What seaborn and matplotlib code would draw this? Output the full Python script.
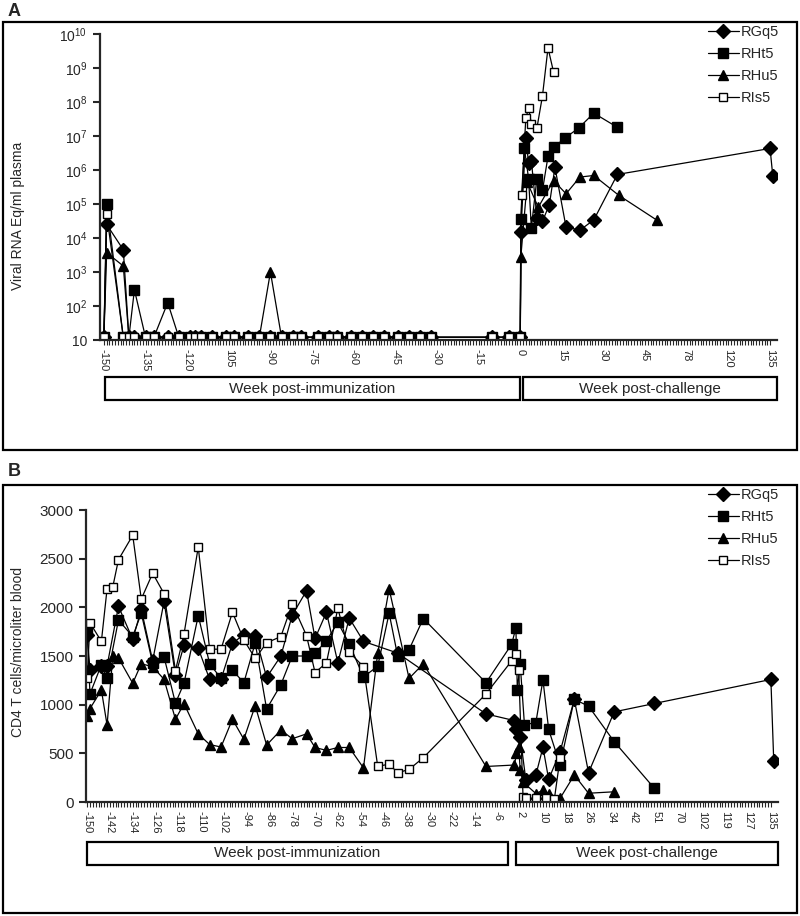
import numpy as np
import matplotlib
matplotlib.use("Agg")
import matplotlib.pyplot as plt
from matplotlib.patches import Rectangle
from matplotlib.ticker import FixedLocator, FixedFormatter, NullFormatter
import seaborn as sns

sns.set_style("ticks")
plt.rcParams["font.family"] = ["Liberation Sans", "DejaVu Sans"]
plt.rcParams["mathtext.fontset"] = "custom"
plt.rcParams["mathtext.rm"] = "Liberation Sans"

ANIMALS = ["RGq5", "RHt5", "RHu5", "RIs5"]
U = 12  # undetectable, drawn on the baseline

# ---- panel A: viral RNA (copies/ml), weeks ----
a_pre_weeks = [-150, -149, -143, -141, -139, -135, -132, -127, -123, -119, -117, -115,
               -111, -106, -103, -98, -94, -90, -86, -82, -79, -73, -69, -66, -61,
               -57, -53, -49, -44, -40, -36, -32, -10, -4, 0]
a_pre_rgq5 = [U, 2.5e4, 4.5e3, U, U, U, U, U, U, U, U, U, U, U, U, U, U, U, U, U, U, U,
              U, U, U, U, U, U, U, U, U, U, U, U, U]
a_pre_rht5 = [U, 1e5, U, U, 300, U, U, 125, U, U, U, U, U, U, U, U, U, U, U, U, U, U,
              U, U, U, U, U, U, U, U, U, U, U, U, U]
a_pre_rhu5 = [U, 3.7e3, 1.5e3, U, U, U, U, U, U, U, U, U, U, U, U, U, U, 1e3, U, U, U, U,
              U, U, U, U, U, U, U, U, U, U, U, U, U]
a_pre_ris5 = [U, 5e4, U, U, U, U, U, U, U, U, U, U, U, U, U, U, U, U, U, U, U, U,
              U, U, U, U, U, U, U, U, U, U, U, U, U]

a_post_weeks_rgq5 = [0.2, 2, 3, 4, 6, 8, 10.5, 12.5, 16.5, 21.5, 26.5, 35, 135, 136]
a_post_rgq5 = [1.5e4, 9e6, 1.6e6, 1.9e6, 4e4, 3.1e4, 9.6e4, 1.2e6, 2.1e4, 1.7e4, 3.4e4,
               7.4e5, 4.3e6, 6.5e5]
a_post_weeks_rht5 = [0.2, 1.5, 3, 4, 6, 8, 10, 12, 16, 21, 26.5, 35]
a_post_rht5 = [3.7e4, 4.4e6, 5.6e5, 2e4, 5.6e5, 2.5e5, 2.5e6, 4.6e6, 8.6e6, 1.7e7, 4.7e7,
               1.8e7]
a_post_weeks_rhu5 = [0.2, 2.5, 6.5, 12, 16.5, 21.5, 26.5, 35.5, 54]
a_post_rhu5 = [2.7e3, 4.4e5, 8e4, 4.9e5, 2e5, 6.2e5, 6.9e5, 1.8e5, 3.4e4]
a_post_weeks_ris5 = [0.5, 2, 3, 4, 6, 8, 10, 12]
a_post_ris5 = [1.8e5, 3.3e7, 6.6e7, 2.3e7, 1.7e7, 1.5e8, 3.9e9, 7.6e8]

# ---- panel B: CD4 T cells/ul, weeks ----
b_weeks_rgq5 = [-150, -149, -145, -143, -139, -134, -131, -127, -123, -119, -116, -111,
                -107, -103, -99, -95, -91, -87, -82, -78, -73, -70, -66, -62, -58, -53,
                -41, -10, 0, 0.6, 2, 4, 7.5, 10, 12, 16, 21, 26, 35, 50, 135, 136]
b_rgq5 = [1720, 1360, 1400, 1400, 2010, 1670, 1980, 1450, 2060, 1300, 1610, 1580, 1260,
          1260, 1630, 1720, 1710, 1280, 1500, 1920, 2170, 1680, 1950, 1430, 1890, 1650,
          1530, 905, 836, 747, 672, 226, 277, 562, 233, 515, 1055, 301, 926, 1012, 1259,
          424]
b_weeks_rht5 = [-150, -149, -145, -143, -139, -134, -131, -127, -123, -119, -116, -111,
                -107, -103, -99, -95, -91, -87, -82, -78, -73, -70, -66, -62, -58, -53,
                -48, -44, -41, -37, -32, -10, -1, 0.5, 1, 2, 3.5, 7.5, 10, 12, 16, 21,
                26, 35, 50]
b_rht5 = [1770, 1110, 1410, 1270, 1870, 1700, 1940, 1425, 1490, 1015, 1220, 1915, 1420,
          1270, 1355, 1225, 1635, 955, 1205, 1500, 1500, 1530, 1655, 1845, 1625, 1285,
          1395, 1940, 1500, 1565, 1885, 1225, 1620, 1790, 1155, 1420, 795, 815, 1255, 745,
          380, 1055, 985, 620, 140]
b_weeks_rhu5 = [-150, -149, -145, -143, -141, -139, -134, -131, -127, -123, -119, -116,
                -111, -107, -103, -99, -95, -91, -87, -82, -78, -73, -70, -66, -62, -58,
                -53, -48, -44, -37, -32, -10, 0, 0.7, 1.5, 2, 3, 7.5, 10, 12, 16, 21, 26, 35]
b_rhu5 = [880, 960, 1150, 790, 1500, 1480, 1220, 1420, 1390, 1260, 850, 1010, 700, 590,
          565, 850, 645, 990, 585, 740, 650, 700, 560, 530, 560, 560, 350, 1530, 2190,
          1270, 1420, 365, 380, 500, 570, 330, 205, 87, 120, 87, 38, 277, 90, 105]
b_weeks_ris5 = [-150, -149, -145, -143, -141, -139, -134, -131, -127, -123, -119, -116,
                -111, -107, -103, -99, -95, -91, -87, -82, -78, -73, -70, -66, -62, -58,
                -53, -48, -44, -41, -37, -32, -10, -1, 0.5, 1.5, 3, 4, 7.5, 11, 14, 16]
b_ris5 = [1270, 1840, 1650, 2190, 2210, 2490, 2740, 2085, 2350, 2140, 1350, 1725, 2620,
          1570, 1570, 1950, 1665, 1475, 1635, 1700, 2035, 1710, 1330, 1430, 1990, 1540,
          1390, 365, 390, 300, 335, 455, 1110, 1450, 1520, 1356, 55, 40, 38, 40, 30, 450]

# category-style x axes (Excel): weeks -> evenly spaced category slots
a_ticks = [-150, -135, -120, -105, -90, -75, -60, -45, -30, -15, 0, 15, 30, 45, 78, 120, 135]
a_ticklabels = ["-150", "-135", "-120", "105", "-90", "-75", "-60", "-45", "-30", "-15",
                "0", "15", "30", "45", "78", "120", "135"]
b_ticks = [-150, -142, -134, -126, -118, -110, -102, -94, -86, -78, -70, -62, -54, -46,
           -38, -30, -22, -14, -6, 2, 10, 18, 26, 34, 42, 51, 70, 102, 119, 127, 135]
a_knots = ([-160, 45, 78, 120, 135, 150], [-10, 195, 210, 225, 240, 255])
b_knots = ([-160, 42, 51, 70, 102, 119, 127, 135, 150], [-10, 192, 200, 208, 216, 224, 232, 240, 255])

MARK = {"RGq5": "D", "RHt5": "s", "RHu5": "^", "RIs5": "s"}
MSIZE = {"RGq5": 7.2, "RHt5": 6.5, "RHu5": 7.2, "RIs5": 6.3}

W, H = 800, 916
fig = plt.figure(figsize=(W / 100, H / 100), dpi=100)


def fbox(x0, y0, x1, y1):
    return [x0 / W, 1 - y1 / H, (x1 - x0) / W, (y1 - y0) / H]


def scale_funcs(knots):
    wk, cat = knots
    return (lambda w: np.interp(w, wk, cat)), (lambda c: np.interp(c, cat, wk))


def draw(ax, weeks, vals, name):
    face = "white" if name == "RIs5" else "black"
    sns.lineplot(x=weeks, y=vals, ax=ax, color="black", lw=0.9, marker=MARK[name],
                 markersize=MSIZE[name], markerfacecolor=face, markeredgecolor="black",
                 markeredgewidth=1.0, estimator=None, sort=False, label=name)


def style_xaxis(ax, knots, ticks, labels, xlim_cat):
    fwd, inv = scale_funcs(knots)
    ax.set_xscale("function", functions=(fwd, inv))
    ax.set_xlim(inv(xlim_cat[0]), inv(xlim_cat[1]))
    ax.xaxis.set_major_locator(FixedLocator(ticks))
    ax.xaxis.set_major_formatter(FixedFormatter(labels))
    ax.xaxis.set_minor_locator(FixedLocator(inv(np.arange(0, 241))))
    ax.xaxis.set_minor_formatter(NullFormatter())
    ax.tick_params(axis="x", which="both", direction="out", length=3.5, width=0.8,
                   labelsize=8, labelrotation=-90, pad=3)
    for s in ["top", "right"]:
        ax.spines[s].set_visible(False)
    for s in ["left", "bottom"]:
        ax.spines[s].set_linewidth(1.6)


# ---------------- panel A ----------------
ax_a = fig.add_axes(fbox(100, 34, 777, 340))
ax_a.set_yscale("log")
series_a = {
    "RGq5": (a_pre_weeks + a_post_weeks_rgq5, a_pre_rgq5 + a_post_rgq5),
    "RHt5": (a_pre_weeks + a_post_weeks_rht5, a_pre_rht5 + a_post_rht5),
    "RHu5": (a_pre_weeks + a_post_weeks_rhu5, a_pre_rhu5 + a_post_rhu5),
    "RIs5": (a_pre_weeks + a_post_weeks_ris5, a_pre_ris5 + a_post_ris5),
}
for name in ANIMALS:
    draw(ax_a, *series_a[name], name)
style_xaxis(ax_a, a_knots, a_ticks, a_ticklabels, (-1.4, 242.5))
ax_a.set_ylim(10, 1e10)
ax_a.yaxis.set_major_locator(FixedLocator([10.0 ** k for k in range(1, 11)]))
ax_a.yaxis.set_major_formatter(FixedFormatter(
    ["10"] + [r"$\mathregular{10^{%d}}$" % k for k in range(2, 11)]))
ax_a.yaxis.set_minor_locator(FixedLocator([]))
ax_a.tick_params(axis="y", direction="out", length=5, width=1.5, labelsize=10, pad=4)
ax_a.set_xlabel("")
ax_a.set_ylabel("")

# ---------------- panel B ----------------
ax_b = fig.add_axes(fbox(86, 510, 778, 802))
series_b = {
    "RGq5": (b_weeks_rgq5, b_rgq5),
    "RHt5": (b_weeks_rht5, b_rht5),
    "RHu5": (b_weeks_rhu5, b_rhu5),
    "RIs5": (b_weeks_ris5, b_ris5),
}
for name in ANIMALS:
    draw(ax_b, *series_b[name], name)
style_xaxis(ax_b, b_knots, b_ticks, [str(t) for t in b_ticks], (-0.4, 242.5))
ax_b.set_ylim(0, 3000)
ax_b.set_yticks([0, 500, 1000, 1500, 2000, 2500, 3000])
ax_b.tick_params(axis="y", direction="out", length=5, width=1.5, labelsize=11, pad=4)
ax_b.set_xlabel("")
ax_b.set_ylabel("")

# legends
for ax, top in [(ax_a, 25), (ax_b, 488)]:
    handles, labels = ax.get_legend_handles_labels()
    if ax.get_legend() is not None:
        ax.get_legend().remove()
    fig.legend(handles, labels, loc="upper left", bbox_to_anchor=(708 / W, 1 - top / H),
               frameon=False, fontsize=10.5, handlelength=2.1, handletextpad=0.15,
               labelspacing=0.55, borderaxespad=0, borderpad=0)

# panel frames, labels and category boxes
for y0, y1 in [(22, 450), (485, 913)]:
    fig.add_artist(Rectangle((3 / W, 1 - y1 / H), 794 / W, (y1 - y0) / H,
                             transform=fig.transFigure, fill=False, lw=1.6, color="black"))
fig.text(8 / W, 1 - 12 / H, "A", fontsize=13, fontweight="bold", va="center")
fig.text(8 / W, 1 - 472 / H, "B", fontsize=13, fontweight="bold", va="center")
fig.text(18 / W, 1 - 216 / H, "Viral RNA Eq/ml plasma", rotation=90, fontsize=10,
         ha="center", va="center")
fig.text(18 / W, 1 - 652 / H, "CD4 T cells/microliter blood", rotation=90, fontsize=10,
         ha="center", va="center")

boxes = [(105, 377, 520, 400, "Week post-immunization"),
         (523, 377, 777, 400, "Week post-challenge"),
         (87, 842, 508, 865, "Week post-immunization"),
         (516, 842, 778, 865, "Week post-challenge")]
for x0, y0, x1, y1, txt in boxes:
    fig.add_artist(Rectangle((x0 / W, 1 - y1 / H), (x1 - x0) / W, (y1 - y0) / H,
                             transform=fig.transFigure, fill=False, lw=1.6, color="black"))
    fig.text((x0 + x1) / 2 / W, 1 - (y0 + y1) / 2 / H, txt, fontsize=11,
             ha="center", va="center")

fig.savefig("out.png", dpi=100)
